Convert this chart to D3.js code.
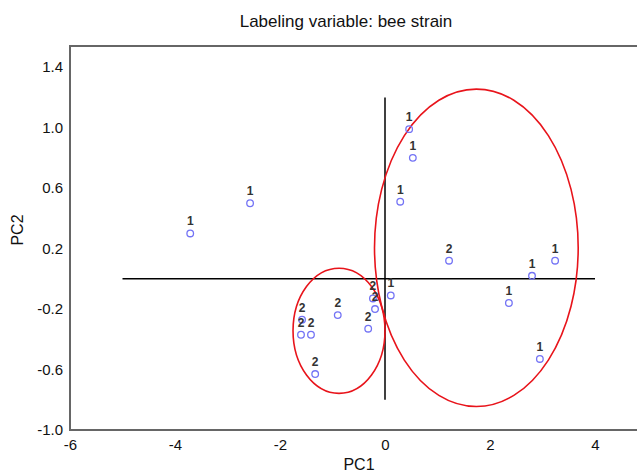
<!DOCTYPE html>
<html>
<head>
<meta charset="utf-8">
<script src="https://cdn.jsdelivr.net/npm/d3@7"></script>
<style>
  body { margin: 0; background: #fff; }
  svg text { font-family: "Liberation Sans", Arial, sans-serif; }
</style>
</head>
<body>
<div id="chart"></div>
<script>
// PC scores, label = bee strain
var pc1 = [-3.71, -2.57, 0.46, 0.53, 0.29, 1.22, 2.80, 3.24, 2.36, 2.95, 0.11,
           -0.23, -0.19, -0.32, -0.90, -1.58, -1.60, -1.41, -1.33]
var pc2 = [0.30, 0.50, 0.99, 0.80, 0.51, 0.12, 0.02, 0.12, -0.16, -0.53, -0.11,
           -0.13, -0.20, -0.33, -0.24, -0.27, -0.37, -0.37, -0.63]
var strain = [1, 1, 1, 1, 1, 2, 1, 1, 1, 1, 1,
              2, 2, 2, 2, 2, 2, 2, 2]

var xTicks = [-6, -4, -2, 0, 2, 4]
var yTicks = [-1.0, -0.6, -0.2, 0.2, 0.6, 1.0, 1.4]

// group ellipses: centre (cx, cy), radii (rx, ry) in data units
var ellCx = [1.74, -0.876]
var ellCy = [0.205, -0.344]
var ellRx = [1.94, 0.876]
var ellRy = [1.05, 0.414]

var width = 637, height = 475
var svg = d3.select('#chart').append('svg')
  .attr('width', width).attr('height', height)

var x = d3.scaleLinear().domain([-6, 5.2]).range([70, 658])
var y = d3.scaleLinear().domain([-1, 1.54]).range([430, 46])

// plain hyphen for negatives, like the original
var fmt = function(f){ return function(d){ return d3.format(f)(d).replace('\u2212', '-') } }

svg.append('text')
  .attr('x', 346).attr('y', 27)
  .attr('text-anchor', 'middle')
  .attr('font-size', 17)
  .attr('fill', '#111')
  .text('Labeling variable: bee strain')

// frame
svg.append('rect')
  .attr('x', x(-6)).attr('y', y(1.54))
  .attr('width', x(5.2) - x(-6)).attr('height', y(-1) - y(1.54))
  .attr('fill', 'none').attr('stroke', '#666').attr('stroke-width', 2)

svg.append('g')
  .attr('transform', 'translate(0,' + y(-1) + ')')
  .call(d3.axisBottom(x).tickValues(xTicks).tickSize(0).tickPadding(9)
    .tickFormat(fmt('d')))
svg.append('g')
  .attr('transform', 'translate(' + x(-6) + ',0)')
  .call(d3.axisLeft(y).tickValues(yTicks).tickSize(0).tickPadding(7)
    .tickFormat(fmt('.1f')))
svg.selectAll('.domain').remove()
svg.selectAll('.tick text').attr('font-size', 15).attr('fill', '#111')

svg.append('text')
  .attr('x', 359).attr('y', 470)
  .attr('text-anchor', 'middle').attr('font-size', 16).attr('fill', '#111')
  .text('PC1')
svg.append('text')
  .attr('transform', 'translate(23,' + 230 + ') rotate(-90)')
  .attr('text-anchor', 'middle').attr('font-size', 16).attr('fill', '#111')
  .text('PC2')

// reference cross
svg.append('line')
  .attr('x1', x(-5)).attr('x2', x(4))
  .attr('y1', y(0)).attr('y2', y(0))
  .attr('stroke', '#000').attr('stroke-width', 1.5)
svg.append('line')
  .attr('x1', x(0)).attr('x2', x(0))
  .attr('y1', y(1.2)).attr('y2', y(-0.8))
  .attr('stroke', '#000').attr('stroke-width', 1.5)

// ellipses
svg.selectAll('ellipse').data(ellCx).enter()
  .append('ellipse')
  .attr('cx', function(d){ return x(d) })
  .attr('cy', function(d, i){ return y(ellCy[i]) })
  .attr('rx', function(d, i){ return x(ellRx[i]) - x(0) })
  .attr('ry', function(d, i){ return y(0) - y(ellRy[i]) })
  .attr('fill', 'none').attr('stroke', '#e8141b').attr('stroke-width', 1.6)

// points + labels
svg.selectAll('circle.pt').data(pc1).enter()
  .append('circle').attr('class', 'pt')
  .attr('cx', function(d){ return x(d) })
  .attr('cy', function(d, i){ return y(pc2[i]) })
  .attr('r', 3.3)
  .attr('fill', 'none').attr('stroke', '#7373f5').attr('stroke-width', 1.3)

svg.selectAll('text.lab').data(pc1).enter()
  .append('text').attr('class', 'lab')
  .attr('x', function(d){ return x(d) })
  .attr('y', function(d, i){ return y(pc2[i]) - 8 })
  .attr('text-anchor', 'middle')
  .attr('font-size', 12).attr('font-weight', 'bold').attr('fill', '#333')
  .text(function(d, i){ return strain[i] })
</script>
</body>
</html>
